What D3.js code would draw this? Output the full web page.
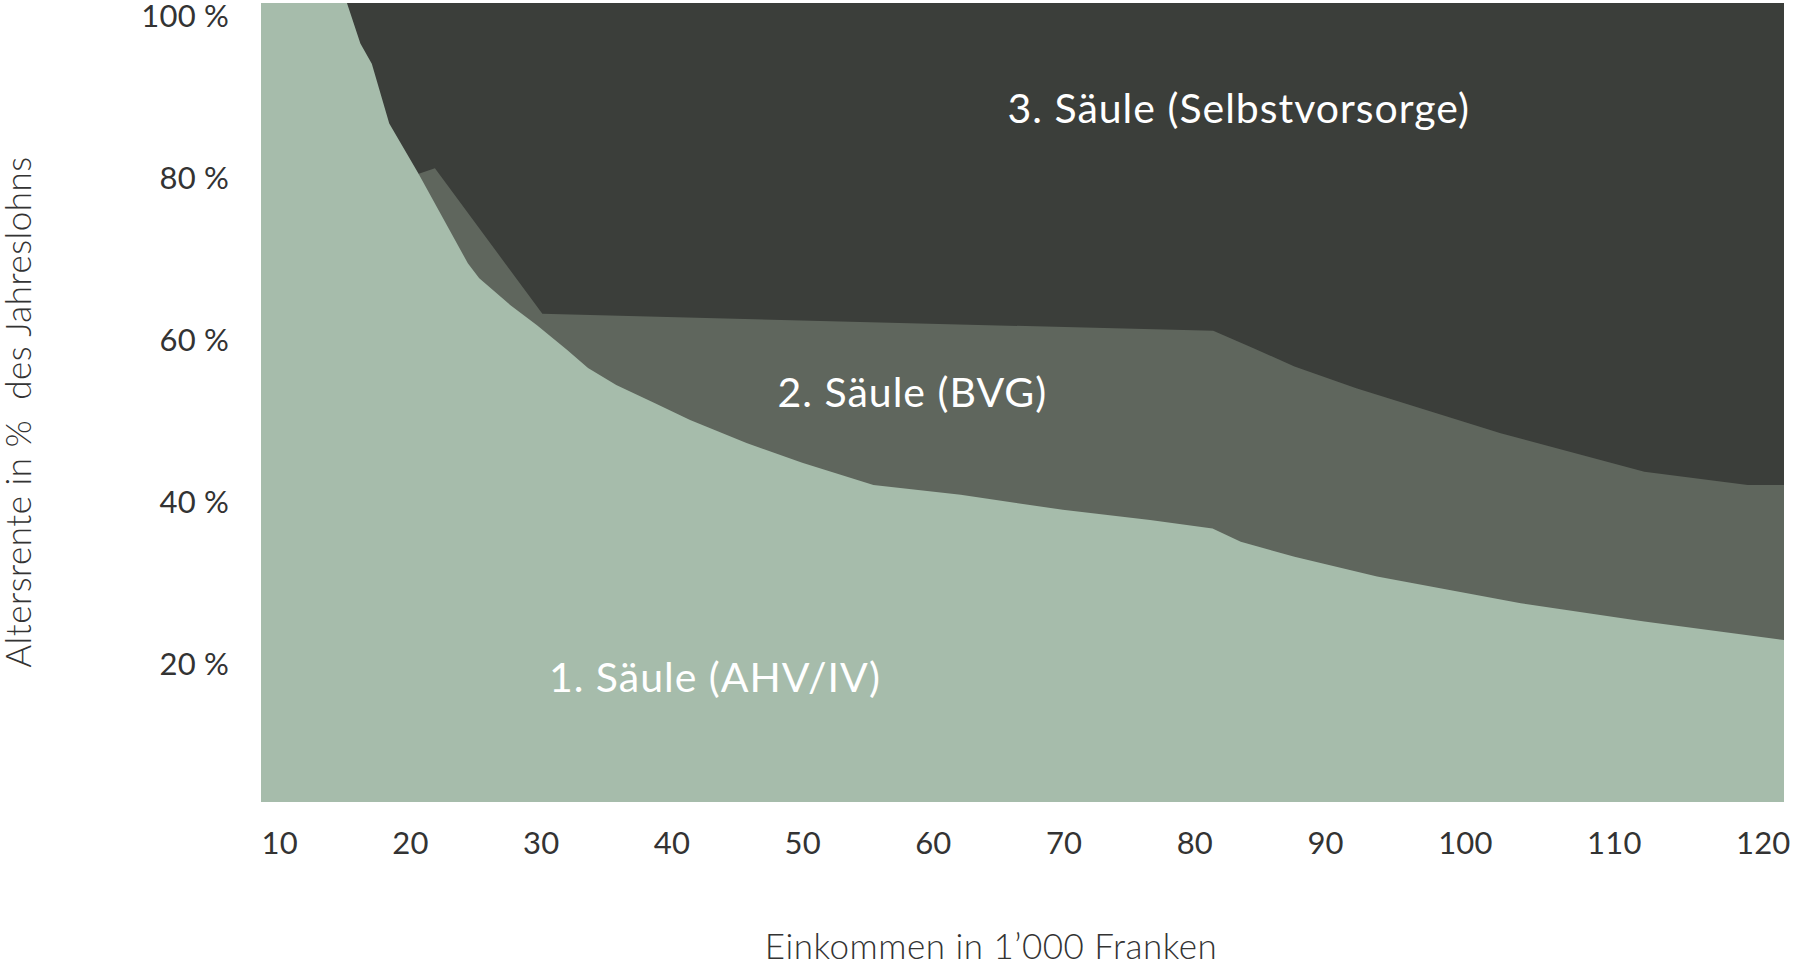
<!DOCTYPE html>
<html lang="de">
<head>
<meta charset="utf-8">
<title>Altersrente nach Einkommen</title>
<script src="https://cdn.jsdelivr.net/npm/d3@7"></script>
<style>
  html, body { margin: 0; padding: 0; background: #fff; }
  svg { display: block; font-family: Lato, "Open Sans", sans-serif; }
  .axis text { fill: #333; font-family: Lato, "Open Sans", sans-serif; font-size: 31px; font-weight: 400; letter-spacing: 0.2px; }
  .title { fill: #333; font-size: 35px; font-weight: 300; letter-spacing: 0.5px; }
  .area-label { fill: #fff; font-size: 41px; letter-spacing: 1px; text-anchor: middle; }
</style>
</head>
<body>
<svg id="chart" width="1795" height="971"></svg>
<script>
'use strict';

// Einkommen in 1'000 Franken -> Rente in % des Jahreslohns (kumuliert)
const ahvIncome = [9.8, 16.2, 17.2, 18.05, 19.35, 21.5, 25.2, 26.05, 28.35, 30.35, 32.6, 34.15,
    36.25, 39.1, 41.75, 45.95, 50.1, 55.4, 61.9, 69.5, 76.0, 80.65, 82.75, 86.75, 92.9,
    103.6, 112.8, 123.2];
const ahvRate = [135, 101.5, 96.5, 94.0, 86.6, 80.5, 69.35, 67.5, 64.2, 61.7, 58.65, 56.4,
    54.3, 52.1, 50.0, 47.15, 44.7, 41.95, 40.75, 38.9, 37.65, 36.6, 34.95, 33.1, 30.65,
    27.35, 25.1, 22.8];

const bvgIncome = [21.55, 22.75, 30.75, 80.7, 83.7, 86.75, 91.35, 102.1, 112.8, 120.5, 123.2];
const bvgRate = [80.4, 81.1, 63.1, 61.0, 58.85, 56.6, 53.9, 48.35, 43.6, 41.95, 41.95];

const incomeTicks = [10, 20, 30, 40, 50, 60, 70, 80, 90, 100, 110, 120];
const rateTicks = [20, 40, 60, 80, 100];

const pillarNames = ['1. Säule (AHV/IV)', '2. Säule (BVG)', '3. Säule (Selbstvorsorge)'];
const pillarColors = ['#a6bcab', '#5f665d', '#3b3e3a'];
const labelIncome = [43.6, 58.3, 82.6];
const labelRate = [16.4, 51.6, 86.7];

const incomeExtent = [9.8, 123.2];
const rateExtent = [2.8, 101.5];

const margin = {top: 3, right: 11, bottom: 169, left: 261};
const width = 1795 - margin.left - margin.right;
const height = 971 - margin.top - margin.bottom;

const svg = d3.select('#chart');
const g = svg.append('g')
    .attr('transform', `translate(${margin.left},${margin.top})`);

const x = d3.scaleLinear().domain(incomeExtent).range([0, width]);
const y = d3.scaleLinear().domain(rateExtent).range([height, 0]);

g.append('clipPath')
    .attr('id', 'plot-clip')
    .append('rect')
    .attr('width', width)
    .attr('height', height);

const plot = g.append('g').attr('clip-path', 'url(#plot-clip)');

// 3. Säule: everything above the other two
plot.append('rect')
    .attr('x', x(incomeExtent[0]))
    .attr('y', y(rateExtent[1]))
    .attr('width', x(incomeExtent[1]) - x(incomeExtent[0]))
    .attr('height', y(rateExtent[0]) - y(rateExtent[1]))
    .attr('fill', pillarColors[2]);

const area = d3.area()
    .x(d => x(d[0]))
    .y0(y(rateExtent[0]))
    .y1(d => y(d[1]));

plot.append('path')
    .datum(d3.zip(bvgIncome, bvgRate))
    .attr('fill', pillarColors[1])
    .attr('d', area);

plot.append('path')
    .datum(d3.zip(ahvIncome, ahvRate))
    .attr('fill', pillarColors[0])
    .attr('d', area);

g.selectAll('.area-label')
    .data(pillarNames)
    .join('text')
    .attr('class', 'area-label')
    .attr('x', (d, i) => x(labelIncome[i]))
    .attr('y', (d, i) => y(labelRate[i]))
    .text(d => d);

// axes
const xAxis = g.append('g')
    .attr('class', 'axis')
    .attr('transform', `translate(0,${height})`)
    .call(d3.axisBottom(x).tickValues(incomeTicks).tickSize(0).tickPadding(30));

const yAxis = g.append('g')
    .attr('class', 'axis')
    .call(d3.axisLeft(y).tickValues(rateTicks).tickSize(0).tickPadding(32)
        .tickFormat(d => d + ' %'));

[xAxis, yAxis].forEach(a => a.attr('font-family', null).select('.domain').remove());
yAxis.selectAll('.tick text').attr('dy', '0.38em');

// the labels of the original are set justified along the bottom edge
function justify(axis, left, right){
    const nodes = axis.selectAll('.tick text').nodes();
    const widths = nodes.map(n => n.getComputedTextLength());
    const gap = (right - left - d3.sum(widths)) / (nodes.length - 1);
    let pos = left;
    nodes.forEach((n, i) => {
        const t = d3.select(n.parentNode).datum();
        d3.select(n).attr('x', pos + widths[i] / 2 - x(t));
        pos += widths[i] + gap;
    });
}
justify(xAxis, 0, width + 6);

g.append('text')
    .attr('class', 'title')
    .attr('x', 730)
    .attr('y', height + 157)
    .attr('text-anchor', 'middle')
    .text('Einkommen in 1\u2019000 Franken');

svg.append('text')
    .attr('class', 'title')
    .attr('transform', 'translate(31,412) rotate(-90)')
    .attr('text-anchor', 'middle')
    .text('Altersrente in %\u00a0 des Jahreslohns');
</script>
</body>
</html>
